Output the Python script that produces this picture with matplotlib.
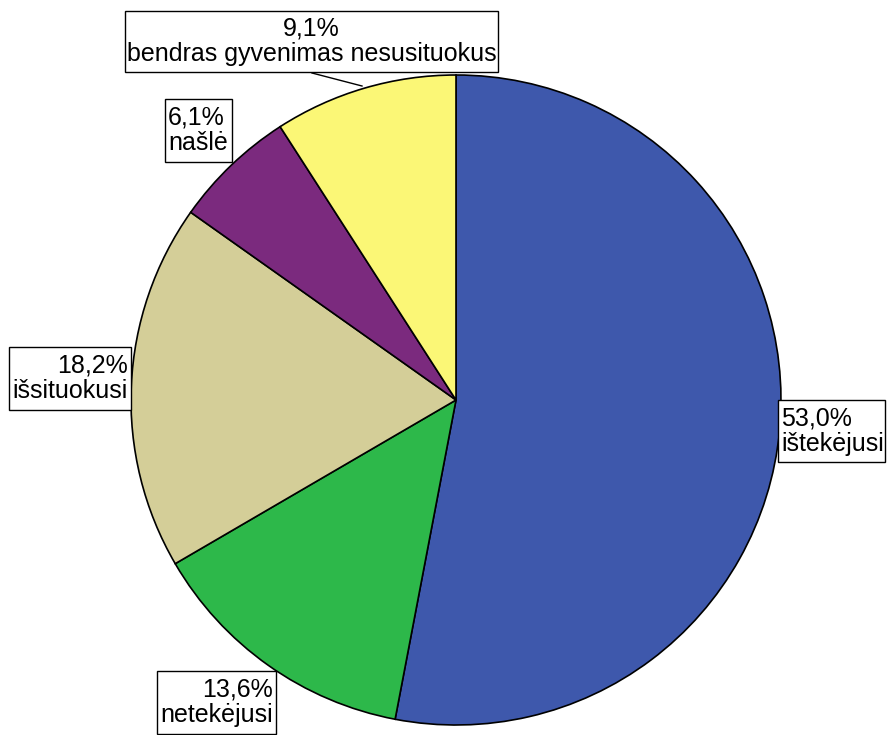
import matplotlib.pyplot as plt
from matplotlib.patches import Rectangle

plt.rcParams['font.family'] = ['Liberation Sans', 'DejaVu Sans']

labels = ["ištekėjusi", "netekėjusi", "išsituokusi", "našlė", "bendras gyvenimas nesusituokus"]
values = [53.0, 13.6, 18.2, 6.1, 9.1]
colors = ["#3e58ac", "#2db84a", "#d4ce98", "#7b2a7e", "#fbf776"]

W, H = 890, 735
fig = plt.figure(figsize=(W / 100, H / 100), dpi=100)
ax = fig.add_axes([0, 0, 1, 1])

# pixel-like coordinates, y measured from the bottom
cx, cy, r = 456, H - 400, 325
ax.pie(values, colors=colors, startangle=90, counterclock=False,
       center=(cx, cy), radius=r,
       wedgeprops=dict(edgecolor='black', linewidth=1.2))
ax.set_xlim(0, W)
ax.set_ylim(0, H)
ax.set_aspect('auto')
ax.axis('off')

def pct(v):
    return f"{v:.1f}%".replace('.', ',')

# label boxes: (left, top, right, bottom) in pixels, text alignment
boxes = [
    ((778, 400, 885, 462), 'left'),
    ((157, 671, 276, 734), 'right'),
    ((9, 347, 131, 410), 'right'),
    ((165, 99, 232, 162), 'left'),
    ((125, 11, 498, 72), 'center'),
]
for v, lab, ((x0, y0, x1, y1), ha) in zip(values, labels, boxes):
    ax.add_patch(Rectangle((x0, H - y1), x1 - x0, y1 - y0, fc='white', ec='black', lw=1.0, zorder=3))
    tx = {'left': x0 + 3, 'right': x1 - 3, 'center': (x0 + x1) / 2}[ha]
    ax.text(tx, H - (y0 + y1) / 2, f"{pct(v)}\n{lab}", ha=ha, va='center', multialignment=ha,
            fontsize=18, linespacing=1.08, zorder=4)

# leader line for the top label
ax.plot([312, 362], [H - 73, H - 86], color='black', lw=1.0)

fig.savefig("out.png", dpi=100)
